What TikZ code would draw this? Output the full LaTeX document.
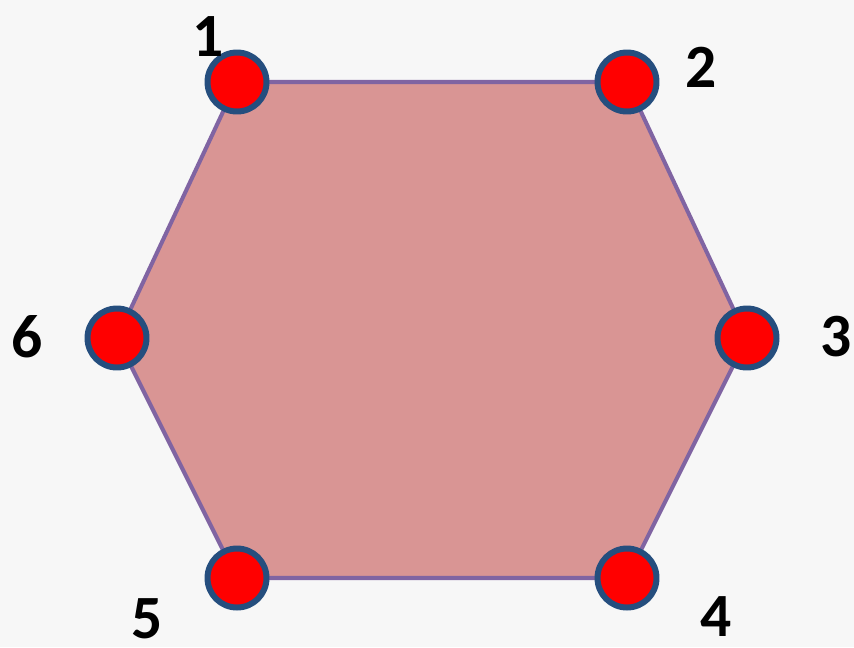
\documentclass[tikz,border=0pt]{standalone}
\usepackage{fontspec}
\setmainfont{Carlito}
\usetikzlibrary{backgrounds}
\definecolor{hexfill}{HTML}{D99594}
\definecolor{hexedge}{HTML}{8064A2}
\definecolor{dotedge}{HTML}{254E7E}
\definecolor{dotred}{HTML}{FF0000}
\definecolor{paper}{HTML}{F7F7F7}
\begin{document}
\begin{tikzpicture}[
    x=0.02cm, y=-0.02cm,
    dot/.style={circle,draw=dotedge,line width=3.4pt,fill=dotred,minimum size=1.18cm,inner sep=0pt},
    num/.style={font=\fontsize{35}{35}\selectfont\bfseries,inner sep=0pt},
    side/.style={draw=hexedge,line width=2.3pt,fill=hexfill},
  ]
    \useasboundingbox (0,0) rectangle (854,647);

    \node[dot] (v1) at (237,82) {};
    \node[dot] (v2) at (627,82) {};
    \node[dot] (v3) at (747,338) {};
    \node[dot] (v4) at (627,578) {};
    \node[dot] (v5) at (237,578) {};
    \node[dot] (v6) at (117,338) {};

    \node[num] (l1) at (208,37) {1};
    \node[num] (l2) at (701,67) {2};
    \node[num] (l3) at (836,337) {3};
    \node[num] (l4) at (716,617) {4};
    \node[num] (l5) at (147,619) {5};
    \node[num] (l6) at (27,337) {6};

    \begin{scope}[on background layer]
      \fill[paper] (0,0) rectangle (854,647);
      \draw[side] (v1.center) -- (v2.center) -- (v3.center) -- (v4.center) -- (v5.center) -- (v6.center) -- cycle;
    \end{scope}
  \end{tikzpicture}
\end{document}
